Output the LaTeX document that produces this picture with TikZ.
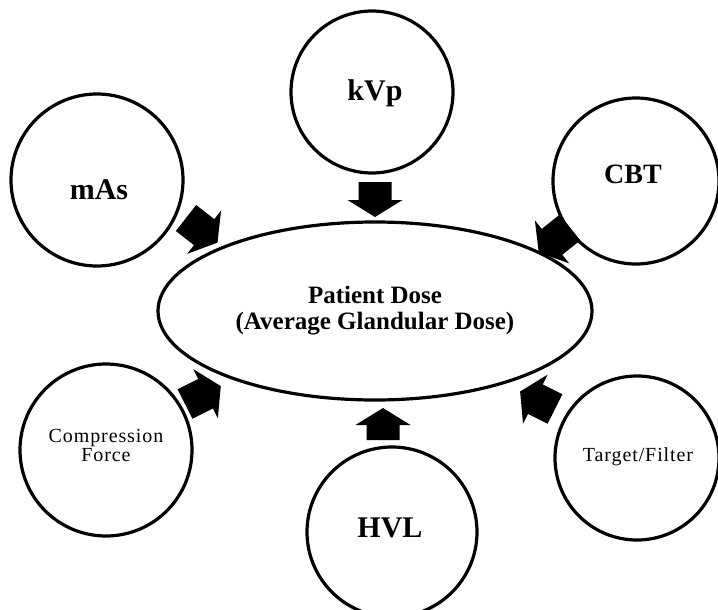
\documentclass[tikz,border=0pt]{standalone}
\usepackage{fontspec}
\setmainfont{Liberation Serif}
\usetikzlibrary{shapes.geometric}
\newcommand{\barrow}[4]{% #1 name, #2 back point, #3 angle, #4 length
  \coordinate (#1) at #2;
  \fill[blockfill, shift={(#1)}, rotate=#3]
    (0,-16.5) -- (#4-17,-16.5) -- (#4-17,-27.5) -- (#4,0) --
    (#4-17,27.5) -- (#4-17,16.5) -- (0,16.5) -- cycle;}
\begin{document}
\begin{tikzpicture}[x=1pt,y=-1pt,
  ring/.style={circle, draw=black, line width=3.2pt, inner sep=0pt},
  bigtext/.style={font=\fontsize{30}{32}\selectfont\bfseries, inner sep=0pt, anchor=base},
  smalltext/.style={font=\fontsize{20}{19}\selectfont\addfontfeature{LetterSpace=4.5}, align=center, inner sep=0pt},
  blockfill/.style={fill=black}]
\useasboundingbox (0,0) rectangle (718,610);
\fill[white] (0,0) rectangle (718,610);

% outer circles
\node[ring, minimum size=162pt] (kvp) at (372,92) {};
\node[ring, minimum size=172pt] (mas) at (97,180) {};
\node[ring, minimum size=166pt] (cbt) at (636,181) {};
\node[ring, minimum size=172pt] (comp) at (106,450) {};
\node[ring, minimum size=164pt] (targ) at (637,458) {};
\node[ring, minimum size=170pt] (hvl) at (392,532) {};

% central ellipse
\node[ellipse, draw=black, line width=3.2pt, minimum width=434pt, minimum height=178pt, inner sep=0pt] (dose) at (375,311) {};

% texts
\node[bigtext] (tkvp) at (375,100) {kVp};
\node[bigtext] (tmas) at (99,199) {mAs};
\node[bigtext, font=\fontsize{28}{30}\selectfont\bfseries] (tcbt) at (633,183) {CBT};
\node[bigtext] (thvl) at (390,537) {HVL};
\node[font=\fontsize{25}{26}\selectfont\bfseries, align=center, inner sep=0pt] (tdose) at (375,311)
  {Patient Dose\\(Average Glandular Dose)};
\node[smalltext] (tcomp) at (106,445) {Compression\\Force};
\node[smalltext, anchor=base] (ttarg) at (638,461) {Target/Filter};

% block arrows toward the ellipse
\barrow{akvp}{(375,182)}{-90}{35}
\barrow{amas}{(186,218)}{-38}{40}
\barrow{acbt}{(570,227.5)}{-141.5}{40}
\barrow{acomp}{(185,404)}{26.6}{40}
\barrow{atarg}{(555,409)}{153.4}{39}
\barrow{ahvl}{(383,440)}{90}{32}
\end{tikzpicture}
\end{document}
